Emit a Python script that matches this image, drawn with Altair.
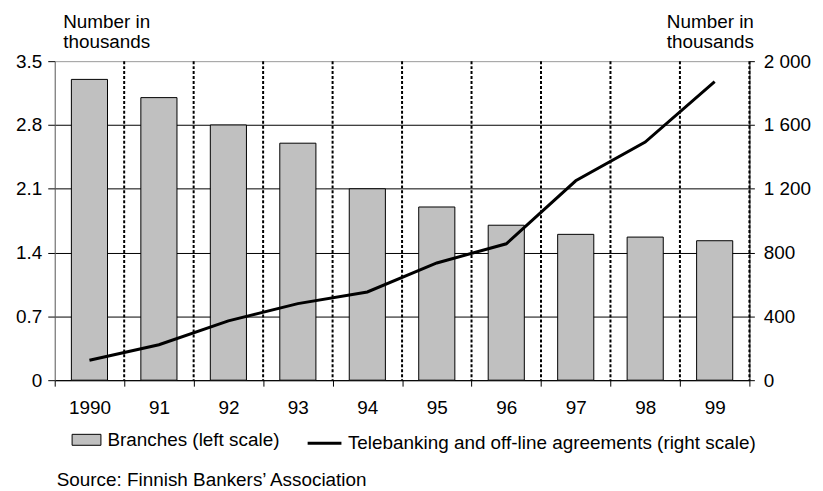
import altair as alt
import pandas as pd

years = ["1990", "91", "92", "93", "94", "95", "96", "97", "98", "99"]
branches = [3.30, 3.10, 2.80, 2.60, 2.10, 1.90, 1.70, 1.60, 1.57, 1.53]
telebanking = [125, 222, 372, 480, 553, 735, 855, 1250, 1493, 1872]
left_ticks = [0, 0.7, 1.4, 2.1, 2.8, 3.5]
right_ticks = [0, 400, 800, 1200, 1600, 2000]
bar_label = "Branches (left scale)"
line_label = "Telebanking and off-line agreements (right scale)"
axis_title = ["Number in", "thousands"]
source = "Source: Finnish Bankers\u2019 Association"

FONT = "Liberation Sans"
FS = 19

df = pd.DataFrame({
    "year": years,
    "branches": branches,
    "tele": telebanking,
    "bar_series": [bar_label] * len(years),
    "line_series": [line_label] * len(years),
})

xscale = alt.Scale(paddingInner=0, paddingOuter=0)
xaxis = alt.Axis(tickBand="extent", labelAngle=0, grid=False,
                 domainColor="black", tickColor="black", tickSize=6,
                 labelPadding=13, labelFontSize=FS, labelFont=FONT,
                 labelColor="black", title=None)

bars = alt.Chart(df).mark_bar(
    width={"band": 0.52}, stroke="black", strokeWidth=1
).encode(
    x=alt.X("year:N", sort=years, scale=xscale, axis=xaxis),
    y=alt.Y("branches:Q", scale=alt.Scale(domain=[0, 3.5], nice=False, zero=True),
            axis=alt.Axis(values=left_ticks, format=".1~f", orient="left",
                          grid=True,
                          gridColor={"condition": {"test": "datum.value == 3.5", "value": "#999999"}, "value": "black"},
                          gridWidth=1, domainColor="#555555", tickColor="black",
                          tickSize=7, labelPadding=6, labelFontSize=FS,
                          labelFont=FONT, labelColor="black",
                          title=axis_title, titleAngle=0, titleAlign="left",
                          titleBaseline="alphabetic", titleX=8, titleY=-34,
                          titleFont=FONT, titleFontSize=FS, titleFontWeight="normal",
                          titleLineHeight=20, titleColor="black")),
    fill=alt.Fill("bar_series:N", scale=alt.Scale(range=["#c0c0c0"]),
                  legend=alt.Legend(orient="none", legendX=17, legendY=366,
                                    title=None, padding=0, labelLimit=0,
                                    symbolType="M-1,-0.38H1V0.38H-1Z",
                                    symbolSize=841, symbolStrokeColor="black",
                                    symbolStrokeWidth=1, symbolFillColor="#c0c0c0",
                                    labelFontSize=FS, labelFont=FONT,
                                    labelColor="black", labelOffset=6)),
)

dividers = alt.Chart(df).mark_rule(
    color="black", strokeWidth=2, strokeDash=[3, 2]
).encode(
    x=alt.X("year:N", sort=years, scale=xscale, bandPosition=1, axis=xaxis),
)

line = alt.Chart(df).mark_line(strokeWidth=3).encode(
    x=alt.X("year:N", sort=years, scale=xscale, axis=xaxis),
    y=alt.Y("tele:Q", scale=alt.Scale(domain=[0, 2000], nice=False),
            axis=alt.Axis(values=right_ticks, orient="right", grid=False,
                          labelExpr="replace(format(datum.value, ','), ',', ' ')",
                          domainColor="black", tickColor="black", tickSize=5,
                          labelPadding=9, labelFontSize=FS, labelFont=FONT,
                          labelColor="black",
                          title=axis_title, titleAngle=0, titleAlign="right",
                          titleBaseline="alphabetic", titleX=4, titleY=-34,
                          titleFont=FONT, titleFontSize=FS, titleFontWeight="normal",
                          titleLineHeight=20, titleColor="black")),
    stroke=alt.Stroke("line_series:N", scale=alt.Scale(range=["black"]),
                      legend=alt.Legend(orient="none", legendX=253, legendY=366,
                                        title=None, padding=0, labelLimit=0,
                                        symbolType="stroke", symbolSize=1156,
                                        symbolStrokeWidth=3,
                                        labelFontSize=FS, labelFont=FONT,
                                        labelColor="black", labelOffset=5)),
)

caption = alt.Chart(pd.DataFrame({"t": [source]})).mark_text(
    align="left", baseline="alphabetic", font=FONT, fontSize=FS, color="black"
).encode(text="t:N", x=alt.value(2), y=alt.value(427))

chart = alt.layer(bars, dividers, line, caption).resolve_scale(
    y="independent", fill="independent", stroke="independent"
).properties(
    width=699, height=321,
    padding={"left": 47, "top": 52, "right": 66, "bottom": 108},
    autosize=alt.AutoSizeParams(type="none"),
).configure_view(stroke=None)

chart.save("out.html", embed_options={"renderer": "svg", "actions": False})
